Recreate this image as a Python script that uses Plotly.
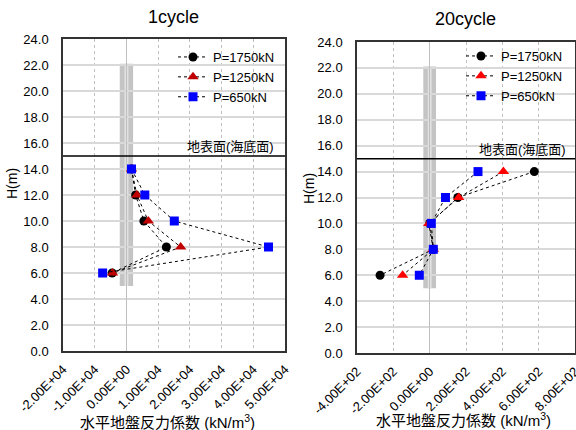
import plotly.graph_objects as go

# ---------------- data ----------------
heights = [14, 12, 10, 8, 6]

c1_p1750 = [1600, 2900, 5500, 12600, -4500]
c1_p1250 = [1600, 3300, 6900, 17100, -4400]
c1_p650 = [1600, 5800, 15100, 44800, -7500]

c20_p1750 = [576, 155, 0, 20, -273]
c20_p1250 = [406, 160, -5, 20, -149]
c20_p650 = [266, 87, 9, 20, -57]

series_names = ["P=1750kN", "P=1250kN", "P=650kN"]

x1_tickvals = [-20000, -10000, 0, 10000, 20000, 30000, 40000, 50000]
x1_ticktext = ["-2.00E+04", "-1.00E+04", "0.00E+00", "1.00E+04",
               "2.00E+04", "3.00E+04", "4.00E+04", "5.00E+04"]
x2_tickvals = [-400, -200, 0, 200, 400, 600, 800]
x2_ticktext = ["-4.00E+02", "-2.00E+02", "0.00E+00", "2.00E+02",
               "4.00E+02", "6.00E+02", "8.00E+02"]

ground_level = 15
pile_top, pile_bottom = 22.1, 5.0
pile_half_w1 = 2100
pile_half_w2 = 35

FONT = "Liberation Sans, Noto Sans CJK JP, sans-serif"

fig = go.Figure()

styles1 = [
    dict(symbol="circle", color="black", size=9),
    dict(symbol="triangle-up", color="#c00000", size=10),
    dict(symbol="square", color="#0000ff", size=9),
]
styles2 = [
    dict(symbol="circle", color="black", size=9),
    dict(symbol="triangle-up", color="#ff0000", size=10),
    dict(symbol="square", color="#0000ff", size=9),
]

for name, xs, st in zip(series_names, [c1_p1750, c1_p1250, c1_p650], styles1):
    fig.add_trace(go.Scatter(
        x=xs, y=heights, name=name, mode="lines+markers",
        line=dict(color="black", width=1, dash="dot"),
        marker=dict(symbol=st["symbol"], color=st["color"], size=st["size"], line=dict(width=0)),
        xaxis="x", yaxis="y", legend="legend"))

for name, xs, st in zip(series_names, [c20_p1750, c20_p1250, c20_p650], styles2):
    fig.add_trace(go.Scatter(
        x=xs, y=heights, name=name, mode="lines+markers",
        line=dict(color="black", width=1, dash="dot"),
        marker=dict(symbol=st["symbol"], color=st["color"], size=st["size"], line=dict(width=0)),
        xaxis="x2", yaxis="y2", legend="legend2"))

axis_common = dict(showline=True, mirror=True, linecolor="#333333", linewidth=1.5, automargin=False,
                   ticks="", tickfont=dict(size=13, color="black", family=FONT))

xcommon = dict(axis_common, showgrid=True, gridcolor="#c0c0c0", griddash="dot", gridwidth=1,
               zeroline=True, zerolinecolor="#bfbfbf", zerolinewidth=1, tickangle=-45,
               ticklabelstandoff=4, ticklabeloverflow="allow")
ycommon = dict(axis_common, range=[0, 24], dtick=2, tickformat=".1f", showgrid=True,
               gridcolor="#d9d9d9", gridwidth=1.5, zeroline=False, ticklabelstandoff=10)

shapes = []
for xr, yr, hw in [("x", "y", pile_half_w1), ("x2", "y2", pile_half_w2)]:
    shapes.append(dict(type="rect", xref=xr, yref=yr, x0=-hw, x1=hw, y0=pile_bottom, y1=pile_top,
                       fillcolor="#c4c4c4", line=dict(width=0), layer="below"))
    shapes.append(dict(type="rect", xref=xr, yref=yr, x0=-hw * 0.3, x1=hw * 0.3, y0=pile_bottom, y1=pile_top,
                       fillcolor="#e2e2e2", line=dict(width=0), layer="below"))
    shapes.append(dict(type="line", xref=xr + " domain", yref=yr, x0=0, x1=1, y0=ground_level, y1=ground_level,
                       line=dict(color="black", width=1.5), layer="above"))

annotations = [
    dict(text="1cycle", x=173 / 576, y=1 - 17 / 430, xref="paper", yref="paper", showarrow=False,
         font=dict(size=18, color="black", family=FONT), xanchor="center", yanchor="middle"),
    dict(text="20cycle", x=465 / 576, y=1 - 19 / 430, xref="paper", yref="paper", showarrow=False,
         font=dict(size=18, color="black", family=FONT), xanchor="center", yanchor="middle"),
    dict(text="H(m)", x=12 / 576, y=1 - 184 / 430, xref="paper", yref="paper", showarrow=False, textangle=-90,
         font=dict(size=14, color="black", family=FONT), xanchor="center", yanchor="middle"),
    dict(text="H(m)", x=309 / 576, y=1 - 189 / 430, xref="paper", yref="paper", showarrow=False, textangle=-90,
         font=dict(size=14, color="black", family=FONT), xanchor="center", yanchor="middle"),
    dict(text="水平地盤反力係数 (kN/m<sup>3</sup>)", x=167 / 576, y=1 - 421 / 430, xref="paper", yref="paper",
         showarrow=False, font=dict(size=15, color="black", family=FONT), xanchor="center", yanchor="middle"),
    dict(text="水平地盤反力係数 (kN/m<sup>3</sup>)", x=463 / 576, y=1 - 419 / 430, xref="paper", yref="paper",
         showarrow=False, font=dict(size=15, color="black", family=FONT), xanchor="center", yanchor="middle"),
    dict(text="地表面(海底面)", x=1, xref="x domain", y=ground_level, yref="y", xshift=-9, yshift=0,
         showarrow=False, font=dict(size=13, color="black", family=FONT), xanchor="right", yanchor="bottom"),
    dict(text="地表面(海底面)", x=1, xref="x2 domain", y=ground_level, yref="y2", xshift=-7, yshift=0,
         showarrow=False, font=dict(size=13, color="black", family=FONT), xanchor="right", yanchor="bottom"),
]

fig.update_layout(
    width=576, height=430, margin=dict(l=0, r=0, t=0, b=0, autoexpand=False),
    paper_bgcolor="white", plot_bgcolor="white",
    font=dict(family=FONT, size=13, color="black"),
    xaxis=dict(xcommon, domain=[63 / 576, 285 / 576], range=[-20000, 50000],
               tickvals=x1_tickvals, ticktext=x1_ticktext, anchor="y"),
    yaxis=dict(ycommon, domain=[1 - 351 / 430, 1 - 39 / 430], anchor="x"),
    xaxis2=dict(xcommon, domain=[357 / 576, 575 / 576], range=[-400, 800],
                tickvals=x2_tickvals, ticktext=x2_ticktext, anchor="y2"),
    yaxis2=dict(ycommon, domain=[1 - 353 / 430, 1 - 42 / 430], anchor="x2"),
    shapes=shapes,
    annotations=annotations,
    legend=dict(x=173 / 576, y=1 - 42 / 430, xanchor="left", yanchor="top", bgcolor="rgba(0,0,0,0)",
                font=dict(size=13, family=FONT), tracegroupgap=0),
    legend2=dict(x=461 / 576, y=1 - 41 / 430, xanchor="left", yanchor="top", bgcolor="rgba(0,0,0,0)",
                 font=dict(size=13, family=FONT), tracegroupgap=0),
    showlegend=True,
)

fig.write_html("out.html", config={"displayModeBar": False})

# remove the browser's default body margin so the figure sits at the window's origin
with open("out.html", encoding="utf-8") as f:
    html = f.read()
html = html.replace("<body>", '<body style="margin:0;padding:0;overflow:hidden">', 1)
with open("out.html", "w", encoding="utf-8") as f:
    f.write(html)
